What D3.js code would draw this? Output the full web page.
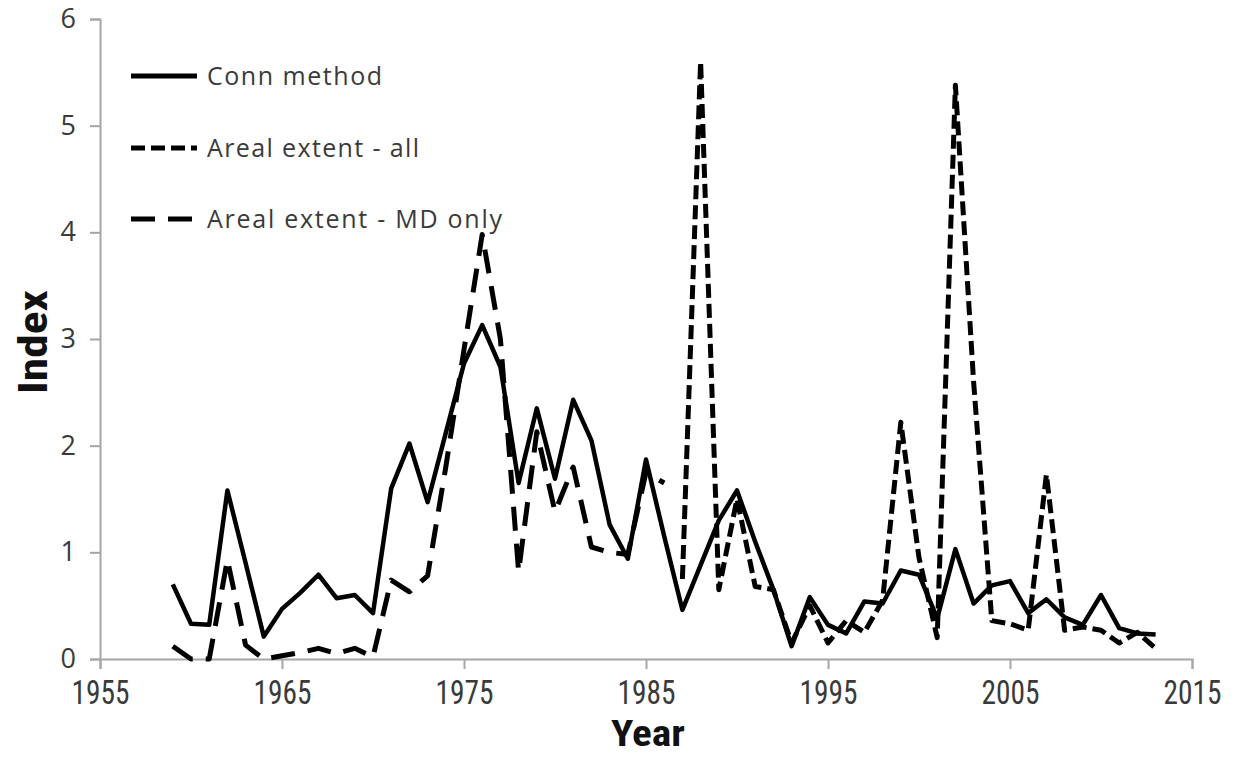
<!DOCTYPE html>
<html>
<head>
<meta charset="utf-8">
<script src="https://cdn.jsdelivr.net/npm/d3@7"></script>
<style>
  html, body { margin: 0; padding: 0; background: #fff; }
  svg { display: block; }
</style>
</head>
<body>
<svg id="chart" width="1237" height="759"></svg>
<script>
// ---- data ----
const connYears = [1959,1960,1961,1962,1963,1964,1965,1966,1967,1968,1969,1970,1971,1972,1973,1974,1975,1976,1977,1978,1979,1980,1981,1982,1983,1984,1985,1986,1987,1988,1989,1990,1991,1992,1993,1994,1995,1996,1997,1998,1999,2000,2001,2002,2003,2004,2005,2006,2007,2008,2009,2010,2011,2012,2013];
const connValues = [0.70,0.33,0.32,1.58,0.90,0.21,0.47,0.62,0.79,0.57,0.60,0.43,1.60,2.02,1.47,2.12,2.77,3.13,2.74,1.65,2.35,1.69,2.43,2.05,1.26,0.94,1.87,1.15,0.46,0.88,1.30,1.58,1.10,0.65,0.12,0.58,0.32,0.24,0.54,0.52,0.83,0.79,0.38,1.03,0.52,0.69,0.73,0.43,0.56,0.39,0.32,0.60,0.29,0.24,0.23];

const allYears = [1987,1988,1989,1990,1991,1992,1993,1994,1995,1996,1997,1998,1999,2000,2001,2002,2003,2004,2005,2006,2007,2008,2009,2010,2011,2012,2013];
const allValues = [0.75,5.60,0.65,1.50,0.68,0.65,0.15,0.50,0.15,0.36,0.25,0.55,2.22,0.95,0.20,5.38,2.60,0.36,0.33,0.27,1.73,0.27,0.30,0.27,0.15,0.25,0.10];

const mdYears = [1959,1960,1961,1962,1963,1964,1965,1966,1967,1968,1969,1970,1971,1972,1973,1974,1975,1976,1977,1978,1979,1980,1981,1982,1983,1984,1985,1986];
const mdValues = [0.12,0.00,0.00,0.93,0.13,0.00,0.03,0.06,0.10,0.05,0.10,0.02,0.74,0.63,0.78,1.80,2.90,3.98,3.00,0.82,2.13,1.38,1.80,1.05,1.00,0.98,1.75,1.65];

const xTicks = [1955,1965,1975,1985,1995,2005,2015];
const yTicks = [0,1,2,3,4,5,6];
const seriesNames = ["Conn method","Areal extent - all","Areal extent - MD only"];

// ---- chart ----
const svg = d3.select("#chart");
const x = d3.scaleLinear().domain([1955, 2015]).range([100, 1192]);
const y = d3.scaleLinear().domain([0, 6]).range([659, 19]);

const narrow = "'Liberation Sans Narrow','Arial Narrow','Roboto Condensed',sans-serif";
const regular = "'Open Sans','Noto Sans',sans-serif";
const axisColor = "#a6a6a6";

// Y axis
const yAxis = svg.append("g").attr("transform", "translate(100,0)")
  .call(d3.axisLeft(y).tickValues(yTicks).tickSize(10).tickPadding(14).tickFormat(d3.format("d")));
yAxis.select(".domain").attr("stroke", axisColor).attr("stroke-width", 2);
yAxis.selectAll(".tick line").attr("stroke", axisColor).attr("stroke-width", 2);
yAxis.selectAll(".tick text").attr("font-family", regular).attr("font-size", 27).attr("fill", "#3a3a3a");

// X axis
const xAxis = svg.append("g").attr("transform", "translate(0,659)")
  .call(d3.axisBottom(x).tickValues(xTicks).tickSize(10).tickPadding(12).tickFormat(d3.format("d")));
xAxis.select(".domain").attr("stroke", axisColor).attr("stroke-width", 2);
xAxis.selectAll(".tick line").attr("stroke", axisColor).attr("stroke-width", 2);
xAxis.selectAll(".tick text").attr("font-family", narrow).attr("font-size", 33).attr("fill", "#3a3a3a")
  .attr("textLength", 58).attr("lengthAdjust", "spacingAndGlyphs");

// Axis titles
svg.append("text").attr("x", 648).attr("y", 746).attr("text-anchor", "middle")
  .attr("font-family", narrow).attr("font-weight", "bold").attr("font-size", 37).attr("fill", "#111")
  .attr("textLength", 74).attr("lengthAdjust", "spacingAndGlyphs").text("Year");
svg.append("text").attr("transform", "translate(47,342) rotate(-90)").attr("text-anchor", "middle")
  .attr("font-family", narrow).attr("font-weight", "bold").attr("font-size", 40).attr("fill", "#111")
  .attr("textLength", 104).attr("lengthAdjust", "spacingAndGlyphs").text("Index");

// Lines
const line = d3.line().x(d => x(d[0])).y(d => y(d[1])).curve(d3.curveLinear);
const zip = (a, b) => a.map((v, i) => [v, b[i]]);

const styles = [
  { dash: null, width: 4.5 },
  { dash: "14,6", width: 5 },
  { dash: "24,13", width: 5 }
];
const seriesData = [zip(connYears, connValues), zip(allYears, allValues), zip(mdYears, mdValues)];

// draw dashed series first, solid on top
[2, 1, 0].forEach(i => {
  svg.append("path").datum(seriesData[i])
    .attr("d", line).attr("fill", "none").attr("stroke", "#000")
    .attr("stroke-width", styles[i].width)
    .attr("stroke-linejoin", "round")
    .attr("stroke-dasharray", styles[i].dash);
});

// Legend
const legendY = [76, 148, 219];
const legendLen = [175, 212, 295];
seriesNames.forEach((name, i) => {
  svg.append("line").attr("x1", 131).attr("x2", 197).attr("y1", legendY[i]).attr("y2", legendY[i])
    .attr("stroke", "#000").attr("stroke-width", 5).attr("stroke-dasharray", styles[i].dash);
  svg.append("text").attr("x", 207).attr("y", legendY[i] + 9)
    .attr("font-family", regular).attr("font-size", 25).attr("fill", "#3a3a3a")
    .attr("textLength", legendLen[i]).attr("lengthAdjust", "spacing").text(name);
});
</script>
</body>
</html>
